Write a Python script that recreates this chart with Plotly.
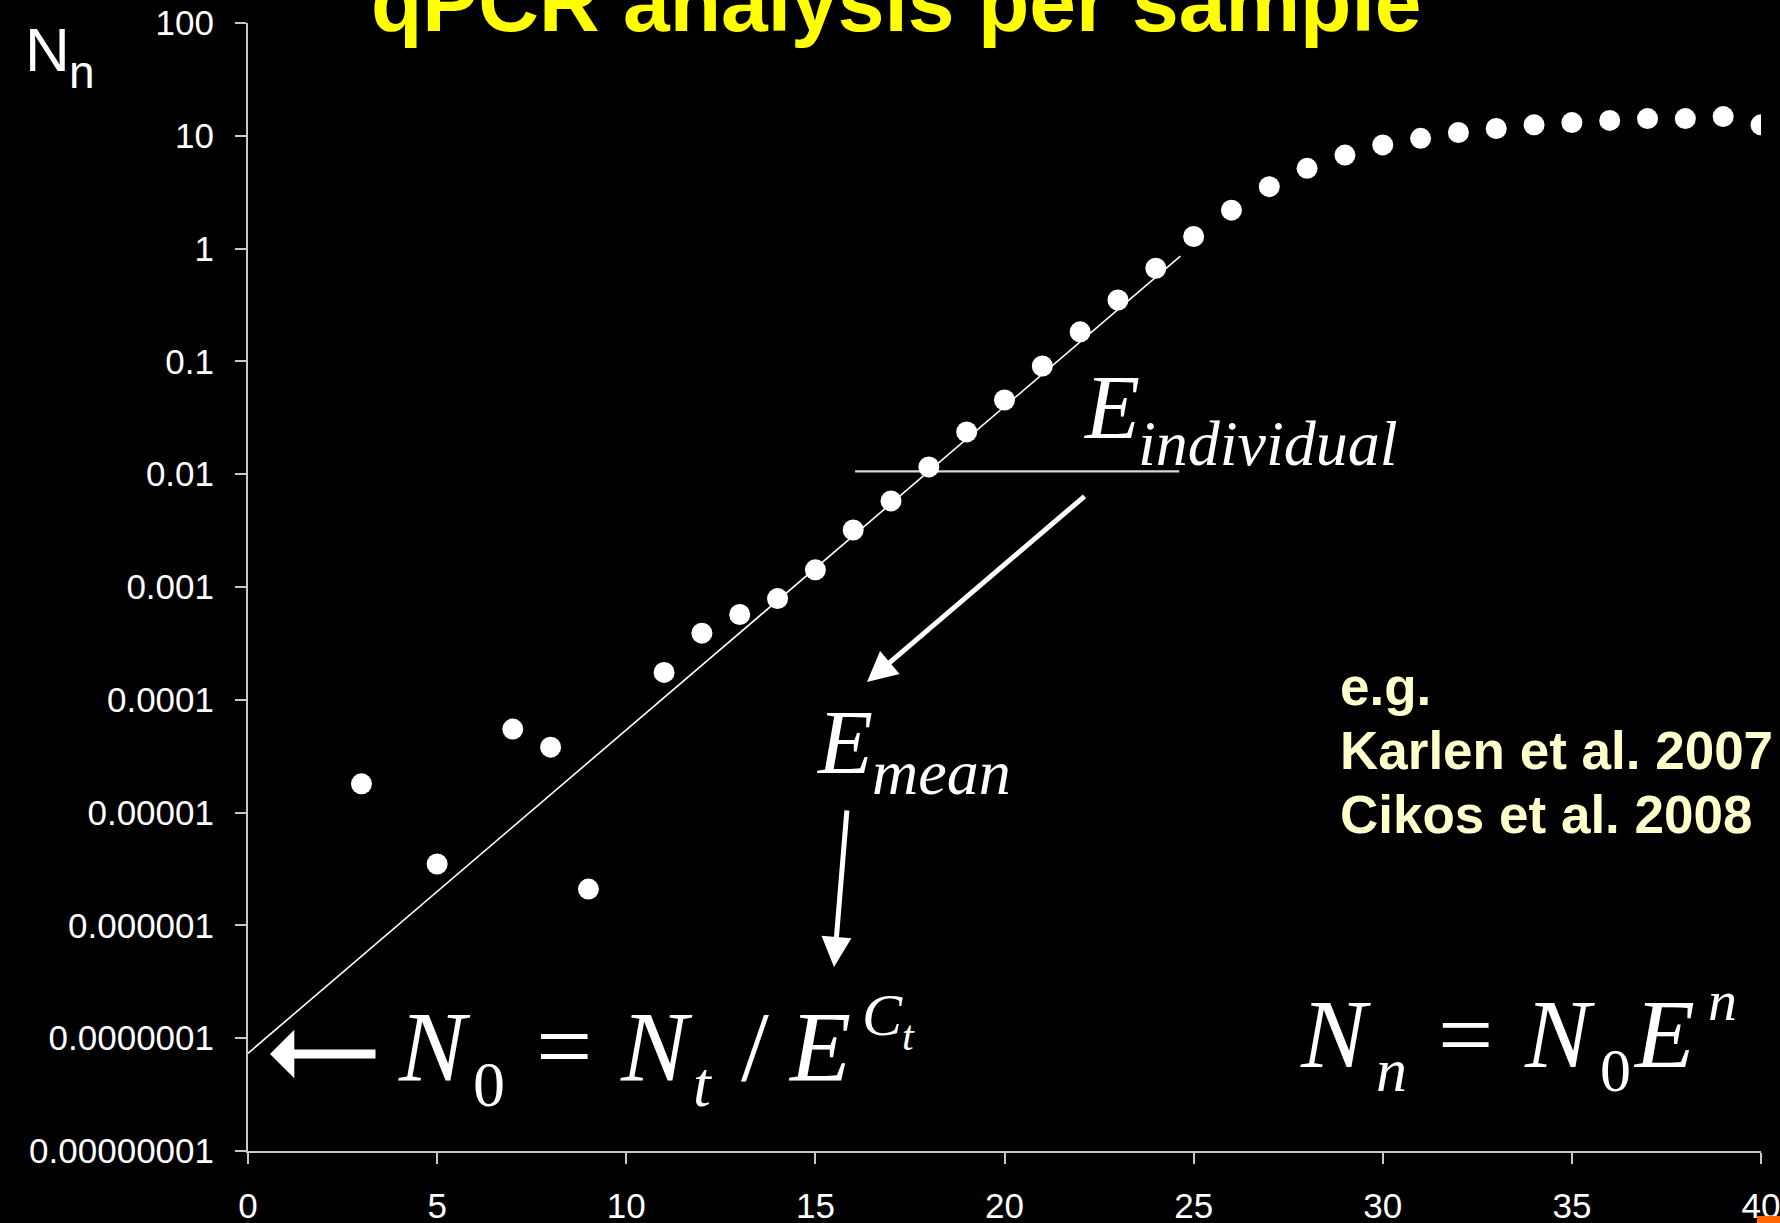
import plotly.graph_objects as go

# ---------------- data ----------------
cycles = [3, 5, 7, 8, 9, 11, 12, 13, 14, 15, 16, 17, 18, 19, 20, 21, 22, 23, 24,
          25, 26, 27, 28, 29, 30, 31, 32, 33, 34, 35, 36, 37, 38, 39, 40]
fluorescence = [1.8e-5, 3.5e-6, 5.5e-5, 3.8e-5, 2.1e-6, 1.75e-4, 3.9e-4, 5.7e-4, 7.9e-4,
                1.42e-3, 3.2e-3, 5.8e-3, 0.0116, 0.0237, 0.0455, 0.091, 0.183, 0.35, 0.67,
                1.28, 2.19, 3.54, 5.15, 6.75, 8.3, 9.5, 10.7, 11.6, 12.5, 13.1, 13.7, 14.2,
                14.2, 14.8, 12.5]

# fitted exponential N_n = N0 * E^n over the log-linear window
fit_N0 = 7.35e-8
fit_E = 1.935
fit_range = [0, 24.65]

# threshold line
threshold_x = [16.05, 24.62]
threshold_y = [0.0106, 0.0106]

x_tickvals = [0, 5, 10, 15, 20, 25, 30, 35, 40]
y_tickvals = [1e-8, 1e-7, 1e-6, 1e-5, 1e-4, 1e-3, 1e-2, 1e-1, 1, 10, 100]
y_ticktext = ["0.00000001", "0.0000001", "0.000001", "0.00001", "0.0001", "0.001",
              "0.01", "0.1", "1", "10", "100"]

# ---------------- layout geometry ----------------
W, H = 1780, 1223
L, R, T, B = 248, 19, 23, 72
PW = W - L - R
PH = H - T - B
BOT = H - B

SANS = "Liberation Sans, Arial, sans-serif"
NARROW = "Liberation Sans Narrow, Arial Narrow, Liberation Sans, Arial, sans-serif"
SERIF = "Liberation Serif, Times New Roman, serif"


def px_x(px):
    return (px - L) / PW


def px_y(py):
    return (BOT - py) / PH


def label(text, left, baseline, size, family, color="white", asc=0.9):
    top = baseline - asc * size - 2
    return dict(text=text, x=px_x(left - 2), y=px_y(top), xref="paper", yref="paper",
                xanchor="left", yanchor="top", showarrow=False,
                font=dict(size=size, family=family, color=color))


fit_y = [fit_N0 * fit_E ** n for n in fit_range]

fig = go.Figure()
fig.add_trace(go.Scatter(x=fit_range, y=fit_y, mode="lines",
                         line=dict(color="white", width=1.6), hoverinfo="skip"))
fig.add_trace(go.Scatter(x=threshold_x, y=threshold_y, mode="lines",
                         line=dict(color="#D8D8D8", width=2.2), hoverinfo="skip"))
fig.add_trace(go.Scatter(x=cycles, y=fluorescence, mode="markers",
                         marker=dict(color="white", size=21, line=dict(width=0))))

ann = []
# title (partly cut off at top)
ann.append(dict(text="<b>qPCR analysis per sample</b>", x=px_x(896), y=px_y(31 - 0.905 * 84 - 2),
                xref="paper", yref="paper", xanchor="center", yanchor="top", showarrow=False,
                font=dict(size=84, family=SANS, color="#FFFF00")))
# N_n axis label
ann.append(label("N", 25, 70.7, 62, NARROW, asc=0.905))
ann.append(label("n", 69, 87.3, 46, NARROW, asc=0.905))

# E_individual
ann.append(label("<i>E</i>", 1083, 438, 90, SERIF, asc=0.891))
ann.append(label("<i>individual</i>", 1138, 465, 64, SERIF, asc=0.891))
# E_mean
ann.append(label("<i>E</i>", 816, 773, 90, SERIF, asc=0.891))
ann.append(label("<i>mean</i>", 872, 794, 64, SERIF, asc=0.891))

# N0 = Nt / E^Ct
ann.append(label("<i>N</i>", 398, 1080, 100, SERIF, asc=0.891))
ann.append(label("0", 473, 1106, 64, SERIF, asc=0.891))
ann.append(label("=", 536, 1080, 100, SERIF, asc=0.891))
ann.append(label("<i>N</i>", 620, 1080, 100, SERIF, asc=0.891))
ann.append(label("<i>t</i>", 693, 1106, 64, SERIF, asc=0.891))
ann.append(label("/", 741, 1080, 100, SERIF, asc=0.891))
ann.append(label("<i>E</i>", 788, 1080, 100, SERIF, asc=0.891))
ann.append(label("<i>C</i>", 862, 1035, 60, SERIF, asc=0.891))
ann.append(label("<i>t</i>", 902, 1050, 42, SERIF, asc=0.891))

# Nn = N0 E^n
ann.append(label("<i>N</i>", 1300, 1067, 98, SERIF, asc=0.891))
ann.append(label("<i>n</i>", 1376, 1091, 62, SERIF, asc=0.891))
ann.append(label("=", 1438, 1067, 98, SERIF, asc=0.891))
ann.append(label("<i>N</i>", 1524, 1067, 98, SERIF, asc=0.891))
ann.append(label("0", 1600, 1091, 62, SERIF, asc=0.891))
ann.append(label("<i>E</i>", 1633, 1067, 98, SERIF, asc=0.891))
ann.append(label("<i>n</i>", 1708, 1020, 58, SERIF, asc=0.891))

# references
REF_C = "#FFFFCC"
ann.append(label("<b>e.g.</b>", 1340, 705, 53, SANS, color=REF_C, asc=0.905))
ann.append(label("<b>Karlen et al. 2007</b>", 1340, 769, 53, SANS, color=REF_C, asc=0.905))
ann.append(label("<b>Cikos et al. 2008</b>", 1340, 833, 53, SANS, color=REF_C, asc=0.905))

# arrows
def arrow(head, tail, width, size, style):
    return dict(text="", x=px_x(head[0]), y=px_y(head[1]), xref="paper", yref="paper",
                ax=tail[0] - head[0], ay=tail[1] - head[1], showarrow=True,
                arrowhead=style, arrowwidth=width, arrowsize=size, arrowcolor="white")

ann.append(arrow((867, 682), (1086, 495), 5, 1.2, 2))
ann.append(arrow((834, 967), (847, 809), 5, 1.2, 2))
ann.append(arrow((270, 1054), (377, 1054), 9, 0.9, 1))

fig.update_layout(
    width=W, height=H,
    autosize=False,
    margin=dict(l=L, r=R, t=T, b=B, pad=0, autoexpand=False),
    paper_bgcolor="black", plot_bgcolor="black",
    showlegend=False,
    annotations=ann,
    shapes=[dict(type="rect", xref="paper", yref="paper",
                 x0=px_x(1757), x1=px_x(1780), y0=px_y(1216), y1=px_y(1223),
                 fillcolor="#FF6600", line=dict(width=0))],
    xaxis=dict(range=[0, 40], tickvals=x_tickvals, ticks="outside", ticklen=11,
               tickwidth=2, tickcolor="#C8C8C8", showline=True, linecolor="#C8C8C8",
               linewidth=2, showgrid=False, zeroline=False, ticklabelstandoff=12,
               ticklabeloverflow="allow", automargin=False,
               tickfont=dict(size=35, family=SANS, color="white")),
    yaxis=dict(type="log", range=[-8, 2], tickvals=y_tickvals, ticktext=y_ticktext,
               ticks="outside", ticklen=11, tickwidth=2, tickcolor="#C8C8C8",
               showline=True, linecolor="#C8C8C8", linewidth=2, showgrid=False,
               zeroline=False, ticklabelstandoff=14, automargin=False,
               ticklabeloverflow="allow",
               tickfont=dict(size=35, family=SANS, color="white")),
)

fig.write_html(
    "out.html",
    config={"displayModeBar": False},
    post_script="document.body.style.margin='0';document.body.style.background='black';"
                "document.body.style.overflow='hidden';",
)
